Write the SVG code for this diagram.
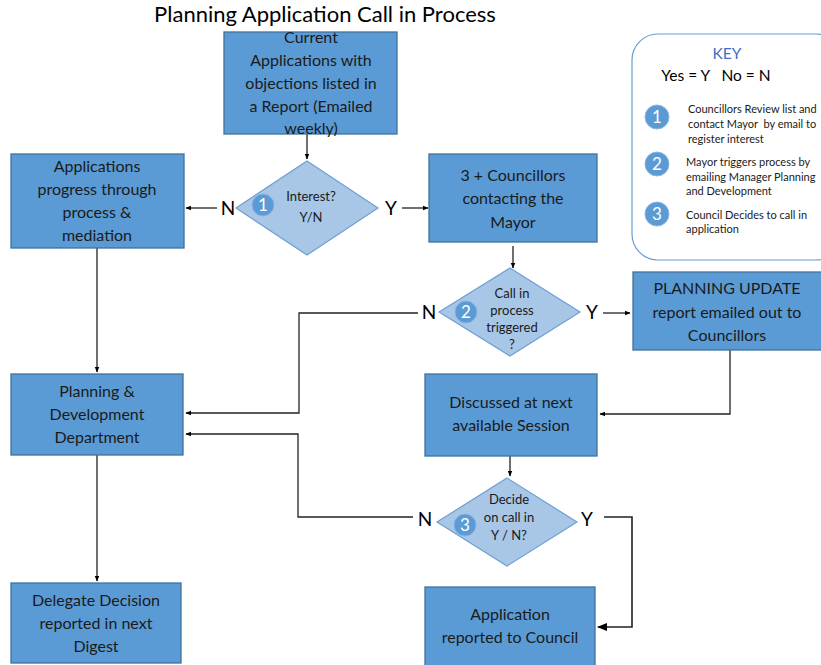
<svg xmlns="http://www.w3.org/2000/svg" width="821" height="665" viewBox="0 0 821 665">
  <defs>
    <marker id="arrow" viewBox="0 0 10 10" refX="9" refY="5" markerWidth="6" markerHeight="6" orient="auto-start-reverse" markerUnits="userSpaceOnUse">
      <path d="M0,1 L10,5 L0,9 Z" fill="#000"/>
    </marker>
    <marker id="arrow-lg" viewBox="0 0 10 10" refX="9" refY="5" markerWidth="10" markerHeight="10" orient="auto" markerUnits="userSpaceOnUse">
      <path d="M0,1 L10,5 L0,9 Z" fill="#000"/>
    </marker>
  </defs>
  <style>
    text { font-family: Lato, "Liberation Sans", sans-serif; fill: #1a1a1a; text-anchor: middle; }
    .box { fill: #5b9bd5; stroke: #41719c; stroke-width: 1.3; }
    .box-text { font-size: 16px; }
    .dia { fill: #a8c6e6; stroke: #6e9fd4; stroke-width: 1.2; }
    .dia-text { font-size: 13px; }
    .badge { fill: #5b9bd5; stroke: #8db4e2; stroke-width: 1; }
    .badge-text { font-size: 17px; fill: #fff; }
    .yn { font-size: 19px; fill: #000; }
    .wire { fill: none; stroke: #222; stroke-width: 1.3; }
    .key-text { font-size: 11px; text-anchor: start; }
  </style>

  <rect width="821" height="665" fill="#fff"/>

  <text x="325" y="22" font-size="22" style="fill:#000">Planning Application Call in Process</text>

  <!-- connectors -->
  <g id="connectors">
    <path class="wire" d="M307,134 V159" marker-end="url(#arrow)"/>
    <path class="wire" d="M217,208 H186" marker-end="url(#arrow)"/>
    <path class="wire" d="M402,208 H428" marker-end="url(#arrow)"/>
    <path class="wire" d="M513,246 V268" marker-end="url(#arrow)"/>
    <path class="wire" d="M603,313 H630" marker-end="url(#arrow)"/>
    <path class="wire" d="M418,313 H299 V413 H186" marker-end="url(#arrow)"/>
    <path class="wire" d="M730,350 V414 H600" marker-end="url(#arrow)"/>
    <path class="wire" d="M510,456 V476" marker-end="url(#arrow)"/>
    <path class="wire" d="M413,517 H298 V434 H186" marker-end="url(#arrow)"/>
    <path class="wire" d="M604,517 H632 V627 H598" marker-end="url(#arrow-lg)" style="stroke-width:1.6"/>
    <path class="wire" d="M97,248 V372" marker-end="url(#arrow)"/>
    <path class="wire" d="M97,455 V581" marker-end="url(#arrow)"/>
  </g>

  <g id="current-applications">
    <rect class="box" x="224" y="32" width="173" height="102"/>
    <text class="box-text" x="311" y="43">Current</text>
    <text class="box-text" x="311" y="66">Applications with</text>
    <text class="box-text" x="311" y="89">objections listed in</text>
    <text class="box-text" x="311" y="112">a Report (Emailed</text>
    <text class="box-text" x="311" y="134">weekly)</text>
  </g>

  <g id="interest-decision">
    <polygon class="dia" points="307,161 378,208 307,255 236,208"/>
    <circle class="badge" cx="263" cy="205" r="11"/>
    <text class="badge-text" x="263" y="211">1</text>
    <text class="dia-text" x="311" y="201">Interest?</text>
    <text class="dia-text" x="311" y="222">Y/N</text>
    <text class="yn" x="228" y="215">N</text>
    <text class="yn" x="391" y="215">Y</text>
  </g>

  <g id="applications-progress">
    <rect class="box" x="11" y="154" width="173" height="94"/>
    <text class="box-text" x="97" y="172">Applications</text>
    <text class="box-text" x="97" y="195">progress through</text>
    <text class="box-text" x="97" y="218">process &amp;</text>
    <text class="box-text" x="97" y="241">mediation</text>
  </g>

  <g id="councillors-contact">
    <rect class="box" x="429" y="154" width="168" height="88"/>
    <text class="box-text" x="513" y="181">3 + Councillors</text>
    <text class="box-text" x="513" y="204">contacting the</text>
    <text class="box-text" x="513" y="228">Mayor</text>
  </g>

  <g id="call-in-decision">
    <polygon class="dia" points="510,268 580,312 510,356 439,312"/>
    <circle class="badge" cx="466" cy="312" r="11"/>
    <text class="badge-text" x="466" y="318">2</text>
    <text class="dia-text" x="512" y="298">Call in</text>
    <text class="dia-text" x="512" y="315">process</text>
    <text class="dia-text" x="512" y="332">triggered</text>
    <text class="dia-text" x="512" y="349">?</text>
    <text class="yn" x="429" y="319">N</text>
    <text class="yn" x="592" y="319">Y</text>
  </g>

  <g id="planning-update">
    <rect class="box" x="633" y="272" width="190" height="78"/>
    <text class="box-text" x="727" y="294">PLANNING UPDATE</text>
    <text class="box-text" x="727" y="318">report emailed out to</text>
    <text class="box-text" x="727" y="341">Councillors</text>
  </g>

  <g id="planning-development">
    <rect class="box" x="11" y="374" width="172" height="81"/>
    <text class="box-text" x="97" y="397">Planning &amp;</text>
    <text class="box-text" x="97" y="420">Development</text>
    <text class="box-text" x="97" y="443">Department</text>
  </g>

  <g id="discussed-session">
    <rect class="box" x="425" y="374" width="172" height="82"/>
    <text class="box-text" x="511" y="408">Discussed at next</text>
    <text class="box-text" x="511" y="431">available Session</text>
  </g>

  <g id="decide-decision">
    <polygon class="dia" points="507,478 577,522 507,566 437,522"/>
    <circle class="badge" cx="465" cy="525" r="11"/>
    <text class="badge-text" x="465" y="531">3</text>
    <text class="dia-text" x="509" y="504">Decide</text>
    <text class="dia-text" x="509" y="522">on call in</text>
    <text class="dia-text" x="509" y="540">Y / N?</text>
    <text class="yn" x="425" y="526">N</text>
    <text class="yn" x="587" y="526">Y</text>
  </g>

  <g id="delegate-decision">
    <rect class="box" x="11" y="583" width="170" height="80"/>
    <text class="box-text" x="96" y="606">Delegate Decision</text>
    <text class="box-text" x="96" y="629">reported in next</text>
    <text class="box-text" x="96" y="652">Digest</text>
  </g>

  <g id="reported-council">
    <rect class="box" x="425" y="587" width="170" height="80"/>
    <text class="box-text" x="510" y="620">Application</text>
    <text class="box-text" x="510" y="643">reported to Council</text>
  </g>

  <g id="key">
    <rect x="632" y="34" width="210" height="226" rx="26" ry="26" fill="#fff" stroke="#6a9bd0" stroke-width="1.2"/>
    <text x="727" y="59" font-size="15.5" style="fill:#3f6fbf">KEY</text>
    <text x="716" y="81" font-size="15.5" style="fill:#000;white-space:pre" xml:space="preserve">Yes = Y   No = N</text>
    <circle class="badge" cx="657" cy="117" r="12"/>
    <text class="badge-text" x="657" y="123">1</text>
    <text class="key-text" x="688" y="113">Councillors Review list and</text>
    <text class="key-text" x="688" y="128" style="white-space:pre" xml:space="preserve">contact Mayor  by email to</text>
    <text class="key-text" x="688" y="143">register interest</text>
    <circle class="badge" cx="657" cy="164" r="12"/>
    <text class="badge-text" x="657" y="170">2</text>
    <text class="key-text" x="686" y="166">Mayor triggers process by</text>
    <text class="key-text" x="686" y="181">emailing Manager Planning</text>
    <text class="key-text" x="686" y="195">and Development</text>
    <circle class="badge" cx="657" cy="214" r="12"/>
    <text class="badge-text" x="657" y="220">3</text>
    <text class="key-text" x="686" y="219">Council Decides to call in</text>
    <text class="key-text" x="686" y="233">application</text>
  </g>
</svg>
